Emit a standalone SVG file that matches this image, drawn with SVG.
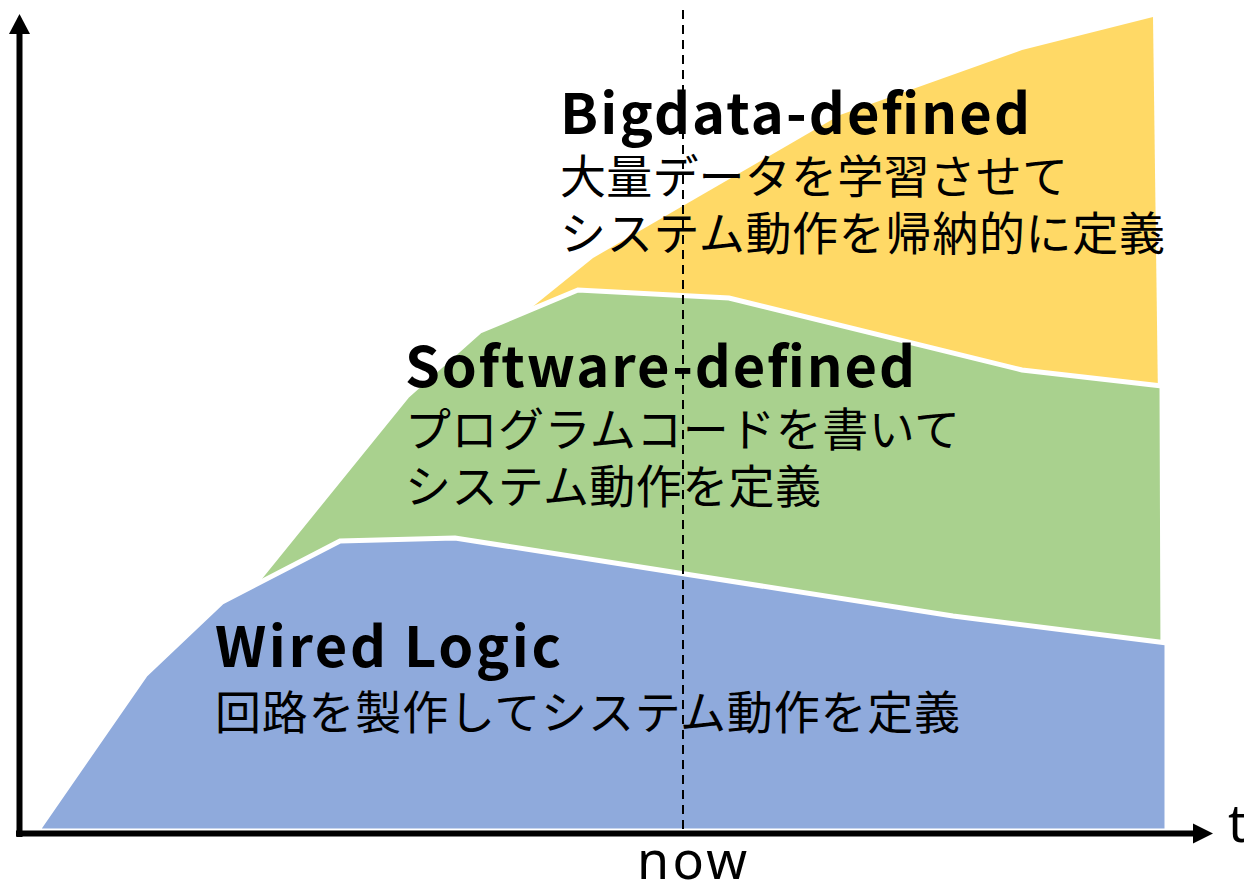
<svg xmlns="http://www.w3.org/2000/svg" width="1244" height="889" viewBox="0 0 1244 889">
  <style>
    .band { stroke: #FFFFFF; stroke-width: 5; stroke-linejoin: miter; }
    .title { font-family: "Noto Sans CJK JP", "Noto Sans", sans-serif; font-weight: 700; font-size: 56px; fill: #000000; }
    .desc { font-family: "Noto Sans CJK JP", "Noto Sans", sans-serif; font-weight: 400; font-size: 46px; fill: #000000; }
    .axislabel { font-family: "Noto Sans", "DejaVu Sans", sans-serif; font-size: 52px; fill: #000000; }
    .axis { stroke: #000000; stroke-width: 6; fill: none; }
  </style>
  <rect width="1244" height="889" fill="#FFFFFF"/>

  <!-- Bigdata-defined band (back) -->
  <g id="bigdata">
    <polygon fill="#FFD966" points="515,321 593,258 700,196 840,115 1022,50 1153,17 1158,400 515,400"/>
  </g>

  <!-- Software-defined band -->
  <g id="software">
    <polygon class="band" fill="#A9D18E" points="244,597 407,396 480,331 578,290 729,298 1022,370 1162,386 1163,660 244,660"/>
  </g>

  <!-- Wired Logic band (front) -->
  <g id="wired">
    <polygon class="band" fill="#8FAADC" points="37,831 145,675 222,602 340,541 455,538 953,616 1167,643 1167,831"/>
  </g>

  <!-- "now" marker -->
  <g id="now-marker">
    <line x1="683" y1="10" x2="683" y2="831" stroke="#000000" stroke-width="2" stroke-dasharray="9,6"/>
  </g>

  <!-- Labels -->
  <g id="bigdata-label">
    <text class="title" x="560" y="134" textLength="470">Bigdata-defined</text>
    <text class="desc" x="560" y="193" textLength="508">大量データを学習させて</text>
    <text class="desc" x="560" y="250" textLength="605">システム動作を帰納的に定義</text>
  </g>
  <g id="software-label">
    <text class="title" x="405" y="387" textLength="510">Software-defined</text>
    <text class="desc" x="405" y="446" textLength="555">プログラムコードを書いて</text>
    <text class="desc" x="405" y="503" textLength="416">システム動作を定義</text>
  </g>
  <g id="wired-label">
    <text class="title" x="215" y="667" textLength="346">Wired Logic</text>
    <text class="desc" x="215" y="729" textLength="745">回路を製作してシステム動作を定義</text>
  </g>

  <!-- Axes -->
  <g id="connectors">
    <line class="axis" x1="19.5" y1="837" x2="19.5" y2="32"/>
    <polygon points="19.5,14 9,34 30,34" fill="#000000"/>
    <line class="axis" x1="16" y1="833.5" x2="1195" y2="833.5"/>
    <polygon points="1213,833.5 1193,823.5 1193,843.5" fill="#000000"/>
  </g>

  <g id="axis-labels">
    <text class="axislabel" x="1228" y="842">t</text>
    <text class="axislabel" x="637" y="879" textLength="110">now</text>
  </g>
</svg>
